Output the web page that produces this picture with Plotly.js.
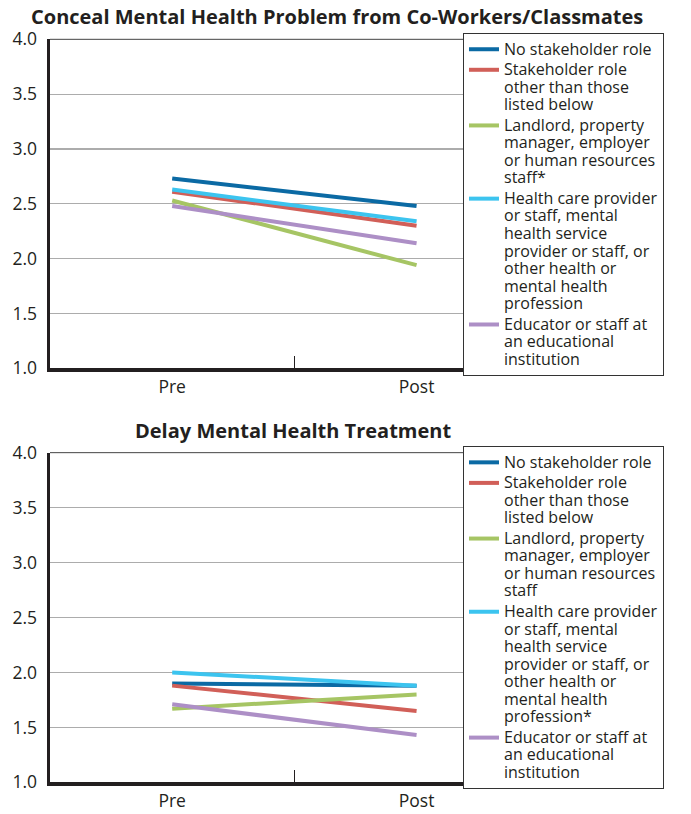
<!DOCTYPE html>
<html>
<head>
<meta charset="utf-8">
<script src="https://cdn.plot.ly/plotly-3.0.1.min.js"></script>
<style>
  body { margin: 0; background: #fff; }
  #chart { width: 691px; height: 814px; }
</style>
</head>
<body>
<div id="chart"></div>
<script>
// categories on the x axis
var periods = ['Pre', 'Post']

// top panel: conceal mental health problem
var concealNone      = [2.73, 2.48]
var concealOther     = [2.61, 2.30]
var concealLandlord  = [2.53, 1.94]
var concealHealth    = [2.63, 2.34]
var concealEducator  = [2.48, 2.14]

// bottom panel: delay mental health treatment
var delayNone      = [1.90, 1.88]
var delayOther     = [1.88, 1.65]
var delayLandlord  = [1.67, 1.80]
var delayHealth    = [2.00, 1.88]
var delayEducator  = [1.71, 1.43]

var namesTop = [
  'No stakeholder role',
  'Stakeholder role<br>other than those<br>listed below',
  'Landlord, property<br>manager, employer<br>or human resources<br>staff*',
  'Health care provider<br>or staff, mental<br>health service<br>provider or staff, or<br>other health or<br>mental health<br>profession',
  'Educator or staff at<br>an educational<br>institution'
]
var namesBottom = [
  'No stakeholder role',
  'Stakeholder role<br>other than those<br>listed below',
  'Landlord, property<br>manager, employer<br>or human resources<br>staff',
  'Health care provider<br>or staff, mental<br>health service<br>provider or staff, or<br>other health or<br>mental health<br>profession*',
  'Educator or staff at<br>an educational<br>institution'
]
var colors = ['#0b6aa4', '#d15f58', '#a6c564', '#3cc4ef', '#ad8fc6']

var txt = '#231f20'
var fontFam = 'Open Sans, sans-serif'

// bigger glyphs than the legend's own line spacing allows
function bigText(name) {
  return name.split('<br>').map(function (s) {
    return '<span style="font-size:16px">' + s + '</span>'
  }).join('<br>')
}

var topSeries = [concealNone, concealOther, concealLandlord, concealHealth, concealEducator]
var botSeries = [delayNone, delayOther, delayLandlord, delayHealth, delayEducator]

var data = []
topSeries.forEach(function (vals, i) {
  data.push({
    x: periods, y: vals, type: 'scatter', mode: 'lines',
    name: bigText(namesTop[i]), line: {color: colors[i], width: 4},
    xaxis: 'x', yaxis: 'y', legend: 'legend'
  })
})
botSeries.forEach(function (vals, i) {
  data.push({
    x: periods, y: vals, type: 'scatter', mode: 'lines',
    name: bigText(namesBottom[i]), line: {color: colors[i], width: 4},
    xaxis: 'x2', yaxis: 'y2', legend: 'legend2'
  })
})

function xAxis(anchor) {
  return {
    anchor: anchor,
    type: 'category',
    range: [-0.5, 1.19],
    domain: [0, 1],
    showgrid: false,
    zeroline: false,
    showline: true,
    linewidth: 4,
    linecolor: txt,
    ticks: 'inside',
    tickson: 'boundaries',
    ticklen: 12,
    tickwidth: 1,
    tickcolor: txt,
    tickfont: {family: fontFam, size: 17.5, color: txt},
    fixedrange: true
  }
}
function yAxis(anchor, dom) {
  return {
    anchor: anchor,
    domain: dom,
    range: [1, 4],
    dtick: 0.5,
    tickformat: '.1f',
    showgrid: true,
    gridcolor: '#acacac',
    gridwidth: 1.2,
    zeroline: false,
    showline: true,
    linewidth: 3.5,
    linecolor: txt,
    ticks: '',
    ticklabelstandoff: 6,
    tickfont: {family: fontFam, size: 17.5, color: txt},
    fixedrange: true
  }
}

function legendBox(ytop) {
  return {
    x: 1, xanchor: 'left', y: ytop, yanchor: 'top',
    valign: 'top',
    bgcolor: '#fff',
    bordercolor: '#333',
    borderwidth: 1,
    itemwidth: 30,
    entrywidth: 178,
    tracegroupgap: 0,
    font: {family: fontFam, size: 13.5, color: txt}
  }
}

var layout = {
  width: 691,
  height: 814,
  margin: {l: 50, r: 228, t: 0, b: 0, autoexpand: false},
  paper_bgcolor: '#fff',
  plot_bgcolor: '#fff',
  showlegend: true,
  xaxis: xAxis('y'),
  yaxis: yAxis('x', [0.5476, 0.9517]),
  xaxis2: xAxis('y2'),
  yaxis2: yAxis('x2', [0.0389, 0.4439]),
  legend: legendBox(0.9595),
  legend2: legendBox(0.452),
  shapes: [
    {type: 'line', xref: 'x domain', yref: 'y domain', x0: 0, x1: 1, y0: 1, y1: 1,
      line: {color: '#444', width: 1}},
    {type: 'line', xref: 'x2 domain', yref: 'y2 domain', x0: 0, x1: 1, y0: 1, y1: 1,
      line: {color: '#444', width: 1}}
  ],
  annotations: [
    {text: '<b>Conceal Mental Health Problem from Co-Workers/Classmates</b>',
      xref: 'paper', yref: 'paper', x: (337 - 50) / 413, y: (814 - 17) / 814,
      xanchor: 'center', yanchor: 'middle', showarrow: false,
      font: {family: fontFam, size: 20, color: txt}},
    {text: '<b>Delay Mental Health Treatment</b>',
      xref: 'paper', yref: 'paper', x: (293 - 50) / 413, y: (814 - 430) / 814,
      xanchor: 'center', yanchor: 'middle', showarrow: false,
      font: {family: fontFam, size: 20, color: txt}}
  ]
}

Plotly.newPlot('chart', data, layout, {displayModeBar: false, staticPlot: true})
</script>
</body>
</html>
